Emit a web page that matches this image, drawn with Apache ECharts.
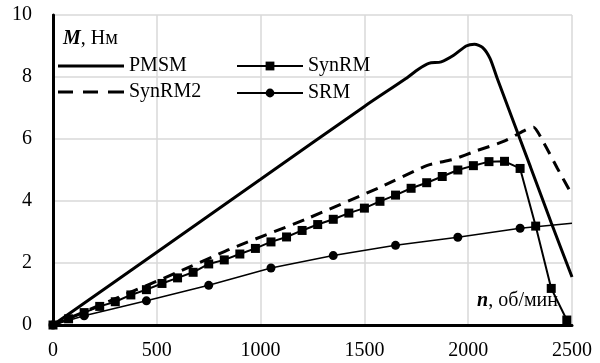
<!DOCTYPE html>
<html>
<head>
<meta charset="utf-8">
<script src="https://cdn.jsdelivr.net/npm/echarts@6/dist/echarts.min.js"></script>
<style>
html, body { margin: 0; padding: 0; background: #fff; }
#chart { width: 600px; height: 363px; }
</style>
</head>
<body>
<div id="chart"></div>
<script>
// n, об/мин -> M, Нм
var pmsmData = [
    [0, 0], [500, 2.35], [1000, 4.7], [1500, 7.05], [1700, 7.95], [1760, 8.25],
    [1810, 8.44], [1870, 8.49], [1930, 8.7], [1990, 9.0], [2030, 9.06], [2070, 8.95],
    [2105, 8.6], [2140, 7.95], [2300, 5.1], [2400, 3.3], [2500, 1.55]
];
var synrmN = [0, 75, 150, 225, 300, 375, 450, 525, 600, 675, 750, 825, 900, 975,
    1050, 1125, 1200, 1275, 1350, 1425, 1500, 1575, 1650, 1725, 1800, 1875, 1950,
    2025, 2100, 2175, 2250, 2325, 2400, 2475];
var synrmM = [0, 0.2, 0.4, 0.6, 0.75, 0.97, 1.14, 1.34, 1.52, 1.7, 1.97, 2.1, 2.29, 2.47,
    2.68, 2.84, 3.05, 3.24, 3.41, 3.61, 3.77, 3.99, 4.19, 4.41, 4.59, 4.79, 5.0,
    5.14, 5.27, 5.28, 5.05, 3.19, 1.18, 0.16];
var synrm2Data = [
    [0, 0], [300, 0.85], [600, 1.7], [850, 2.44], [1220, 3.42], [1575, 4.44],
    [1800, 5.14], [1930, 5.35], [2040, 5.62], [2170, 5.92], [2290, 6.34], [2315, 6.38],
    [2360, 5.93], [2430, 5.05], [2500, 4.2]
];
var srmN = [0, 150, 450, 750, 1050, 1350, 1650, 1950, 2250, 2500];
var srmM = [0, 0.3, 0.78, 1.28, 1.84, 2.24, 2.57, 2.83, 3.12, 3.28];

var xTicks = { min: 0, max: 2500, interval: 500 };
var yTicks = { min: 0, max: 10, interval: 2 };

var font = 'Liberation Serif, Times New Roman, serif';

var synrmData = synrmN.map(function (n, i) { return [n, synrmM[i]]; });
var srmData = srmN.map(function (n, i) {
    var item = { value: [n, srmM[i]] };
    if (i === srmN.length - 1) item.symbol = 'none';
    return item;
});

var myChart = echarts.init(document.getElementById('chart'));

var option = {
    animation: false,
    grid: { left: 53, right: 28, top: 15, bottom: 38 },
    legend: [
        {
            orient: 'vertical',
            left: 53, top: 51,
            itemWidth: 66, itemHeight: 3, itemGap: 6,
            textStyle: { fontFamily: font, fontSize: 20, color: '#000' },
            data: [
                { name: 'PMSM', icon: 'rect' },
                { name: 'SynRM2', icon: 'path://M0,0h15v3h-15z M25,0h15v3h-15z M50,0h16v3h-16z' }
            ]
        },
        {
            orient: 'vertical',
            left: 231, top: 51,
            itemWidth: 66, itemHeight: 11, itemGap: 7,
            textStyle: { fontFamily: font, fontSize: 20, color: '#000' },
            data: ['SynRM', 'SRM']
        }
    ],
    xAxis: [
        {
            type: 'value',
            min: xTicks.min, max: xTicks.max, interval: xTicks.interval,
            axisLine: { lineStyle: { color: '#595959', width: 2 } },
            axisTick: { show: false },
            axisLabel: {
                fontFamily: font, fontSize: 20, color: '#000', margin: 16,
                formatter: function (v) { return String(v); }
            },
            splitLine: { lineStyle: { color: '#d9d9d9', width: 1.5 } }
        },
        {
            type: 'value', position: 'top',
            min: xTicks.min, max: xTicks.max,
            axisLine: { show: true, lineStyle: { color: '#000', width: 3 } },
            axisTick: { show: false }, axisLabel: { show: false }, splitLine: { show: false }
        }
    ],
    yAxis: [
        {
            type: 'value',
            min: yTicks.min, max: yTicks.max, interval: yTicks.interval,
            axisLine: { show: true, lineStyle: { color: '#595959', width: 2 } },
            axisTick: { show: false },
            axisLabel: { fontFamily: font, fontSize: 20, color: '#000', margin: 21 },
            splitLine: { lineStyle: { color: '#d9d9d9', width: 1.5 } }
        },
        {
            type: 'value', position: 'right',
            min: yTicks.min, max: yTicks.max,
            axisLine: { show: true, lineStyle: { color: '#000', width: 3 } },
            axisTick: { show: false }, axisLabel: { show: false }, splitLine: { show: false }
        }
    ],
    graphic: [
        {
            type: 'text', left: 63, top: 29,
            style: {
                text: '{b|M}, Нм',
                font: '20px ' + font, fill: '#000',
                rich: { b: { fontFamily: font, fontSize: 20, fontWeight: 'bold', fontStyle: 'italic' } }
            }
        },
        {
            type: 'text', right: 42, top: 291,
            style: {
                text: '{b|n}, об/мин',
                font: '20px ' + font, fill: '#000',
                rich: { b: { fontFamily: font, fontSize: 20, fontWeight: 'bold', fontStyle: 'italic' } }
            }
        }
    ],
    series: [
        {
            name: 'PMSM', type: 'line',
            data: pmsmData,
            symbol: 'none', smooth: 0.25,
            lineStyle: { color: '#000', width: 3 },
            itemStyle: { color: '#000' }
        },
        {
            name: 'SynRM', type: 'line',
            data: synrmData,
            symbol: 'rect', symbolSize: 9,
            lineStyle: { color: '#000', width: 2 },
            itemStyle: { color: '#000' }
        },
        {
            name: 'SynRM2', type: 'line',
            data: synrm2Data,
            symbol: 'none', smooth: 0.2,
            lineStyle: { color: '#000', width: 3, type: [12, 8] },
            itemStyle: { color: '#000' }
        },
        {
            name: 'SRM', type: 'line',
            data: srmData,
            symbol: 'circle', symbolSize: 9,
            lineStyle: { color: '#000', width: 1.5 },
            itemStyle: { color: '#000' }
        }
    ]
};

option && myChart.setOption(option);
</script>
</body>
</html>
